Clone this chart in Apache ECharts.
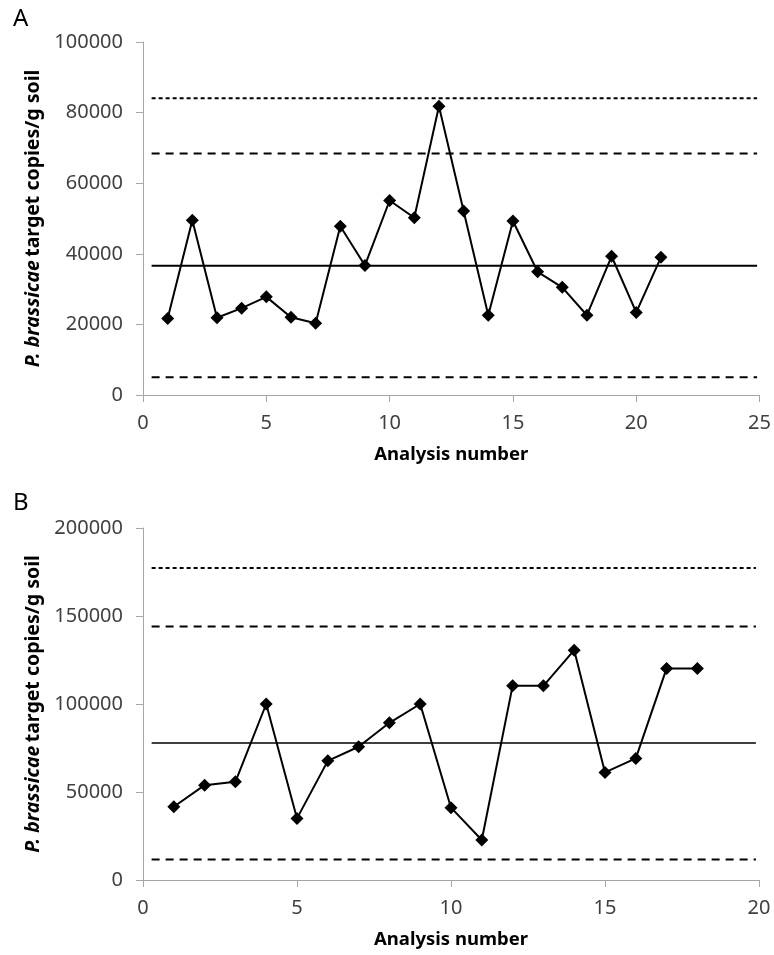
<!DOCTYPE html>
<html>
<head>
<meta charset="utf-8">
<script src="https://cdn.jsdelivr.net/npm/echarts@6/dist/echarts.min.js"></script>
<style>
  html, body { margin: 0; padding: 0; background: #fff; }
  #chart { width: 774px; height: 955px; }
</style>
</head>
<body>
<div id="chart"></div>
<script>
// panel A: analysis number vs copies/g soil
var analysisA = [1, 2, 3, 4, 5, 6, 7, 8, 9, 10, 11, 12, 13, 14, 15, 16, 17, 18, 19, 20, 21];
var copiesA = [21700, 49500, 21900, 24600, 27800, 22000, 20300, 47800, 36700, 55100, 50200,
  81800, 52100, 22600, 49300, 34900, 30500, 22600, 39300, 23400, 39000];
var meanA = 36600;
var warnA = [5000, 68400];   // mean +/- 2 SD
var ctrlA = [84100];         // mean + 3 SD

// panel B
var analysisB = [1, 2, 3, 4, 5, 6, 7, 8, 9, 10, 11, 12, 13, 14, 15, 16, 17, 18];
var copiesB = [41600, 53900, 55800, 100000, 35000, 67700, 75700, 89300, 100000, 41100, 22700,
  110300, 110300, 130600, 61100, 69100, 120200, 120200];
var meanB = 77800;
var warnB = [11700, 144000];
var ctrlB = [177300];

// x range that the limit lines span
var lineSpanA = [0.35, 24.9];
var lineSpanB = [0.28, 19.9];

var chart = echarts.init(document.getElementById('chart'));

var txt = '#404040';
var axisGrey = '#a6a6a6';
var font = 'Noto Sans';

function pairs(xs, ys) {
  return xs.map(function (x, i) { return [x, ys[i]]; });
}

function hline(span, v, idx, type, width) {
  return {
    type: 'line',
    xAxisIndex: idx, yAxisIndex: idx,
    data: [[span[0], v], [span[1], v]],
    symbol: 'none',
    silent: true,
    lineStyle: { color: '#000', width: width, type: type },
    z: 1
  };
}

function yAx(idx, max, interval) {
  return {
    type: 'value', gridIndex: idx, min: 0, max: max, interval: interval,
    name: '{it|P. brassicae} {b|target copies/g soil}',
    nameLocation: 'middle', nameGap: 90,
    nameTextStyle: {
      rich: {
        it: { fontFamily: font, fontSize: 19.5, fontWeight: 'bold', fontStyle: 'italic', color: '#000' },
        b: { fontFamily: font, fontSize: 19.5, fontWeight: 'bold', color: '#000' }
      }
    },
    axisLine: { show: true, lineStyle: { color: axisGrey, width: 1 } },
    axisTick: { show: true, length: 7, lineStyle: { color: axisGrey } },
    axisLabel: { color: txt, fontFamily: font, fontSize: 20, margin: 20, formatter: function (v) { return String(v); } },
    splitLine: { show: false }
  };
}

function xAx(idx, max) {
  return {
    type: 'value', gridIndex: idx, min: 0, max: max, interval: 5,
    name: 'Analysis number', nameLocation: 'middle', nameGap: 50,
    nameTextStyle: { fontFamily: font, fontSize: 18.5, fontWeight: 'bold', color: '#000' },
    axisLine: { show: true, onZero: false, lineStyle: { color: axisGrey, width: 1 } },
    axisTick: { show: true, length: 7, lineStyle: { color: axisGrey } },
    axisLabel: { color: txt, fontFamily: font, fontSize: 20, margin: 18 },
    splitLine: { show: false }
  };
}

var dataStyle = {
  type: 'line',
  symbol: 'diamond',
  symbolSize: 13,
  itemStyle: { color: '#000' },
  lineStyle: { color: '#000', width: 2 },
  z: 3
};

var option = {
  backgroundColor: '#fff',
  animation: false,
  title: [
    { text: 'A', left: 8, top: 2, textStyle: { fontFamily: font, fontSize: 24, fontWeight: 'normal', color: '#000' } },
    { text: 'B', left: 8, top: 486, textStyle: { fontFamily: font, fontSize: 24, fontWeight: 'normal', color: '#000' } }
  ],
  grid: [
    { left: 143, right: 14, top: 42, height: 353 },
    { left: 143, right: 15, top: 528, height: 352 }
  ],
  xAxis: [xAx(0, 25), xAx(1, 20)],
  yAxis: [yAx(0, 100000, 20000), yAx(1, 200000, 50000)],
  series: [
    hline(lineSpanA, meanA, 0, 'solid', 2),
    hline(lineSpanA, warnA[0], 0, [8, 6], 2),
    hline(lineSpanA, warnA[1], 0, [8, 6], 2),
    hline(lineSpanA, ctrlA[0], 0, [4, 3], 2),
    Object.assign({ xAxisIndex: 0, yAxisIndex: 0, data: pairs(analysisA, copiesA) }, dataStyle),
    hline(lineSpanB, meanB, 1, 'solid', 1.5),
    hline(lineSpanB, warnB[0], 1, [8, 6], 2),
    hline(lineSpanB, warnB[1], 1, [8, 6], 2),
    hline(lineSpanB, ctrlB[0], 1, [4, 3], 2),
    Object.assign({ xAxisIndex: 1, yAxisIndex: 1, data: pairs(analysisB, copiesB) }, dataStyle)
  ]
};

chart.setOption(option);
</script>
</body>
</html>
